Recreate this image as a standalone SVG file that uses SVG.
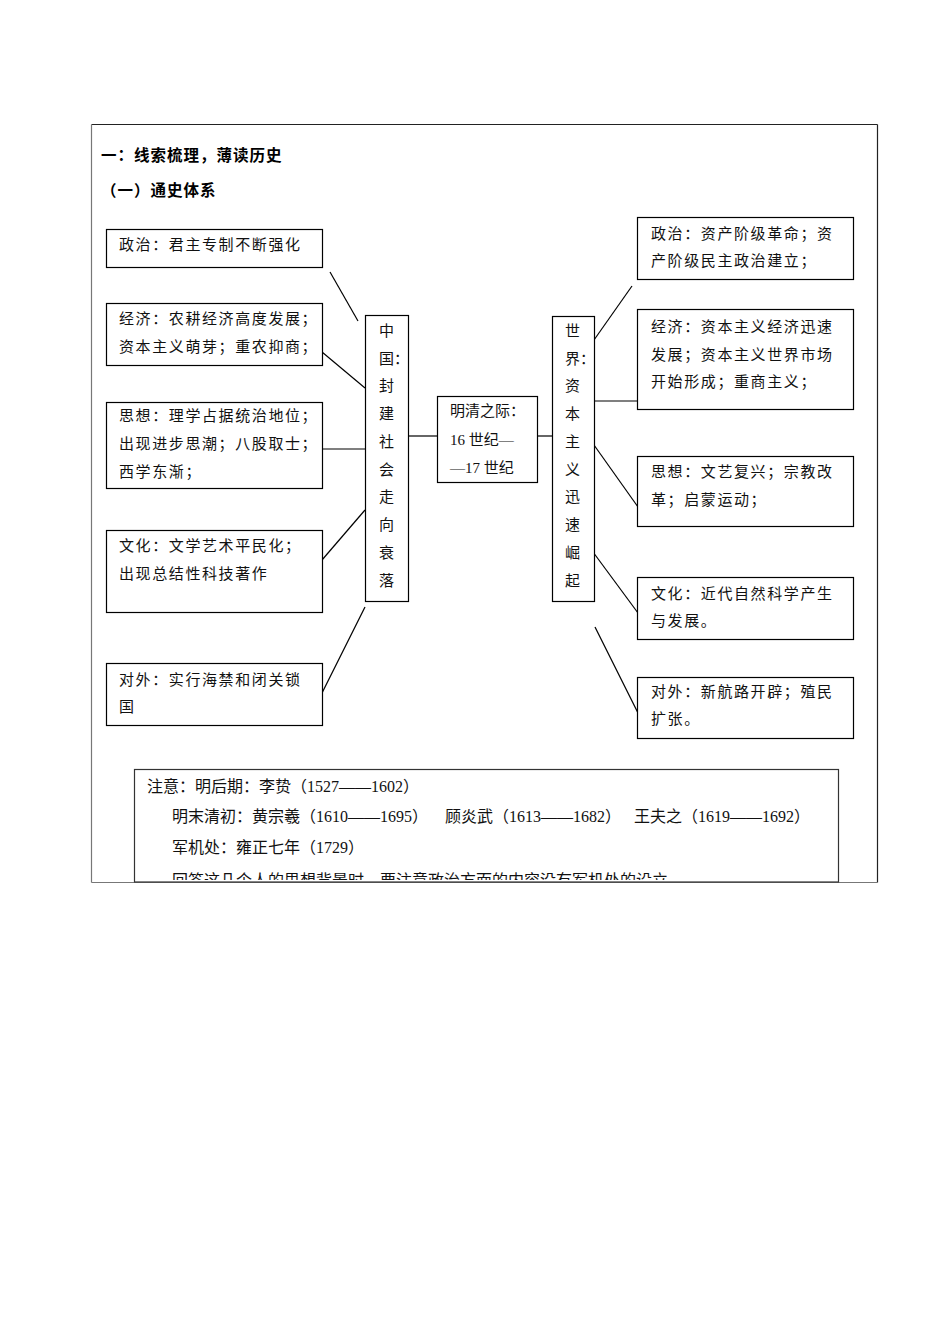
<svg xmlns="http://www.w3.org/2000/svg" width="950" height="1344" viewBox="0 0 950 1344">
<style>
.box{fill:#fff;stroke:#000;stroke-width:1.2}
.t{font-family:"Liberation Serif","Noto Sans CJK SC",serif;font-size:15px;fill:#111;letter-spacing:1.6px}
.v{font-family:"Liberation Serif","Noto Sans CJK SC",serif;font-size:15px;fill:#111}
.m{font-family:"Liberation Serif","Noto Sans CJK SC",serif;font-size:15px;fill:#111}
.n{font-family:"Liberation Serif","Noto Sans CJK SC",serif;font-size:16px;fill:#111}
.h{font-family:"Liberation Sans","Noto Sans CJK SC",sans-serif;font-size:15.5px;font-weight:bold;fill:#000;letter-spacing:1px}
.c{stroke:#000;stroke-width:1.2;fill:none}
</style>
<defs>
<clipPath id="noteClip"><rect x="135" y="770" width="703" height="110"/></clipPath>
</defs>
<rect x="0" y="0" width="950" height="1344" fill="#fff"/>
<g id="frame">
<line x1="91.5" y1="124.5" x2="877.5" y2="124.5" stroke="#222" stroke-width="1.2"/>
<line x1="877.5" y1="124.5" x2="877.5" y2="882.5" stroke="#222" stroke-width="1.2"/>
<line x1="91.5" y1="124.5" x2="91.5" y2="882.5" stroke="#777" stroke-width="1.2"/>
<line x1="91.5" y1="882.5" x2="877.5" y2="882.5" stroke="#777" stroke-width="1.2"/>
</g>
<g id="titles">
<text class="h" x="101" y="161">一：线索梳理，薄读历史</text>
<text class="h" x="101" y="196">（一）通史体系</text>
</g>
<g id="connectors">
<line class="c" x1="330" y1="272" x2="358" y2="321"/>
<line class="c" x1="322" y1="352" x2="365" y2="388"/>
<line class="c" x1="322" y1="449" x2="365" y2="449"/>
<line class="c" x1="322" y1="560" x2="365" y2="510"/>
<line class="c" x1="322" y1="693" x2="365" y2="607"/>
<line class="c" x1="408" y1="436" x2="437" y2="436"/>
<line class="c" x1="537" y1="436" x2="552" y2="436"/>
<line class="c" x1="594" y1="340" x2="632" y2="286"/>
<line class="c" x1="594" y1="401" x2="637" y2="401"/>
<line class="c" x1="594" y1="445" x2="638" y2="507"/>
<line class="c" x1="593" y1="552" x2="638" y2="613"/>
<line class="c" x1="595" y1="627" x2="638" y2="713"/>
</g>
<g id="l-politics">
<rect class="box" x="106.5" y="229.5" width="216" height="38"/>
<text class="t" x="119" y="249.5">政治：君主专制不断强化</text>
</g>
<g id="l-economy">
<rect class="box" x="106.5" y="303.5" width="216" height="62"/>
<text class="t" x="119" y="323.5">经济：农耕经济高度发展；</text>
<text class="t" x="119" y="351.5">资本主义萌芽；重农抑商；</text>
</g>
<g id="l-thought">
<rect class="box" x="106.5" y="402.5" width="216" height="86"/>
<text class="t" x="119" y="420.5">思想：理学占据统治地位；</text>
<text class="t" x="119" y="448.5">出现进步思潮；八股取士；</text>
<text class="t" x="119" y="476.5">西学东渐；</text>
</g>
<g id="l-culture">
<rect class="box" x="106.5" y="530.5" width="216" height="82"/>
<text class="t" x="119" y="550.5">文化：文学艺术平民化；</text>
<text class="t" x="119" y="578.5">出现总结性科技著作</text>
</g>
<g id="l-foreign">
<rect class="box" x="106.5" y="663.5" width="216" height="62"/>
<text class="t" x="119" y="684.5">对外：实行海禁和闭关锁</text>
<text class="t" x="119" y="711.5">国</text>
</g>
<g id="china">
<rect class="box" x="365.5" y="315.5" width="43" height="286"/>
<text class="v" x="379" y="336">中</text>
<text class="v" x="379" y="364">国：</text>
<text class="v" x="379" y="391">封</text>
<text class="v" x="379" y="419">建</text>
<text class="v" x="379" y="447">社</text>
<text class="v" x="379" y="475">会</text>
<text class="v" x="379" y="502">走</text>
<text class="v" x="379" y="530">向</text>
<text class="v" x="379" y="558">衰</text>
<text class="v" x="379" y="586">落</text>
</g>
<g id="center">
<rect class="box" x="437.5" y="396.5" width="100" height="86"/>
<text class="m" x="450" y="415.5">明清之际：</text>
<text class="m" x="450" y="444.5">16 世纪—</text>
<text class="m" x="450" y="472.5">—17 世纪</text>
</g>
<g id="world">
<rect class="box" x="552.5" y="316.5" width="42" height="285"/>
<text class="v" x="565" y="336">世</text>
<text class="v" x="565" y="364">界：</text>
<text class="v" x="565" y="391">资</text>
<text class="v" x="565" y="419">本</text>
<text class="v" x="565" y="447">主</text>
<text class="v" x="565" y="475">义</text>
<text class="v" x="565" y="502">迅</text>
<text class="v" x="565" y="530">速</text>
<text class="v" x="565" y="558">崛</text>
<text class="v" x="565" y="586">起</text>
</g>
<g id="r-politics">
<rect class="box" x="637.5" y="217.5" width="216" height="62"/>
<text class="t" x="651" y="238.5">政治：资产阶级革命；资</text>
<text class="t" x="651" y="265.5">产阶级民主政治建立；</text>
</g>
<g id="r-economy">
<rect class="box" x="637.5" y="309.5" width="216" height="100"/>
<text class="t" x="651" y="331.5">经济：资本主义经济迅速</text>
<text class="t" x="651" y="359.5">发展；资本主义世界市场</text>
<text class="t" x="651" y="386.5">开始形成；重商主义；</text>
</g>
<g id="r-thought">
<rect class="box" x="637.5" y="456.5" width="216" height="70"/>
<text class="t" x="651" y="476.5">思想：文艺复兴；宗教改</text>
<text class="t" x="651" y="504.5">革；启蒙运动；</text>
</g>
<g id="r-culture">
<rect class="box" x="637.5" y="577.5" width="216" height="62"/>
<text class="t" x="651" y="598.5">文化：近代自然科学产生</text>
<text class="t" x="651" y="625.5">与发展。</text>
</g>
<g id="r-foreign">
<rect class="box" x="637.5" y="677.5" width="216" height="61"/>
<text class="t" x="651" y="696.5">对外：新航路开辟；殖民</text>
<text class="t" x="651" y="723.5">扩张。</text>
</g>
<g id="note">
<rect x="134.5" y="769.5" width="704" height="112.5" fill="#fff" stroke="#333" stroke-width="1.2"/>
<g clip-path="url(#noteClip)">
<text class="n" x="147" y="791.5">注意：明后期：李贽（1527——1602）</text>
<text class="n" y="821.5"><tspan x="172">明末清初：黄宗羲（1610——1695）</tspan><tspan x="445">顾炎武（1613——1682）</tspan><tspan x="634">王夫之（1619——1692）</tspan></text>
<text class="n" x="172" y="852.5">军机处：雍正七年（1729）</text>
<text class="n" x="172" y="886">回答这几个人的思想背景时，要注意政治方面的内容没有军机处的设立</text>
</g>
</g>
</svg>
